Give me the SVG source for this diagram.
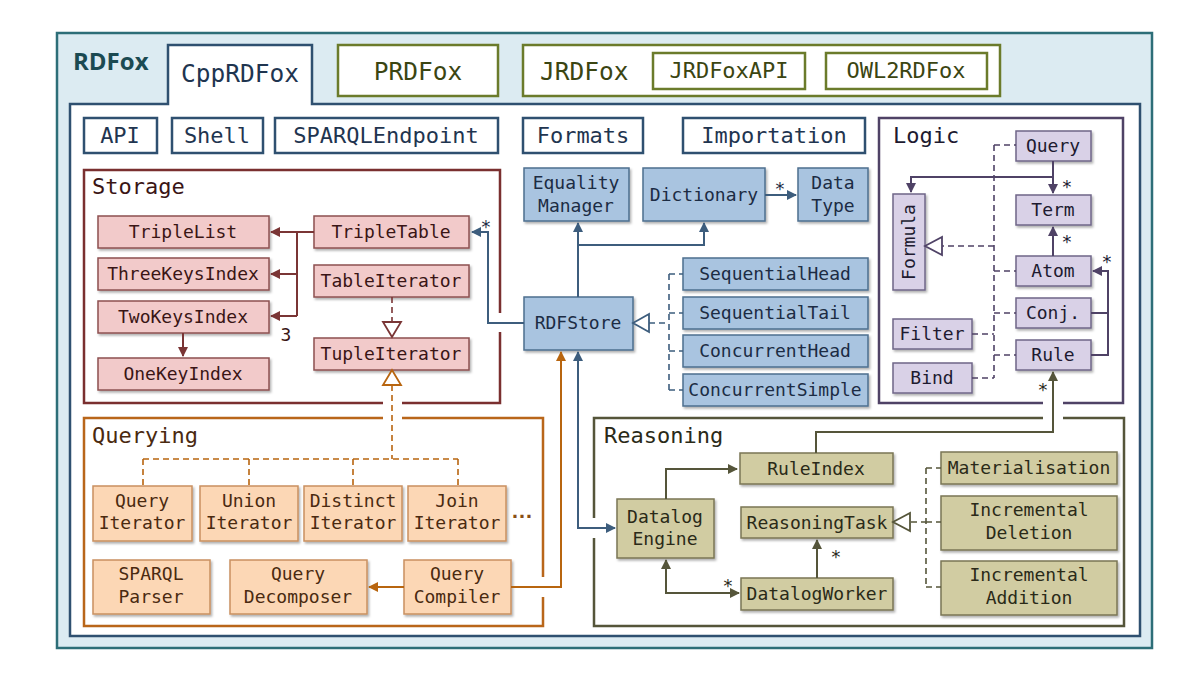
<svg xmlns="http://www.w3.org/2000/svg" width="1200" height="688" viewBox="0 0 1200 688">
<style>
text{font-family:"DejaVu Sans Mono","Liberation Mono",monospace;}
.t18{font-size:18px;text-anchor:middle;}
.t22{font-size:22px;}
.t24{font-size:24.5px;}
.mid{text-anchor:middle;}
.frame{fill:none;stroke-width:2.5;}
.wbox{fill:#fff;stroke-width:2.5;}
.bl{stroke:#2f5070;}
.ol{stroke:#6b7b2b;}
.sn{fill:#f2caca;stroke:#8d5050;stroke-width:1.5;filter:url(#sh);}
.qn{fill:#fcd7b5;stroke:#c99060;stroke-width:1.5;filter:url(#sh);}
.bn{fill:#a9c4e0;stroke:#4e6f8f;stroke-width:1.5;filter:url(#sh);}
.ln{fill:#d9d1e7;stroke:#6f6688;stroke-width:1.5;filter:url(#sh);}
.rn{fill:#d1cca2;stroke:#7a7655;stroke-width:1.5;filter:url(#sh);}
.c{fill:none;stroke-width:2;}
.d{fill:none;stroke-width:1.6;stroke-dasharray:6,4;}
.tri{fill:#fff;stroke-width:1.8;}
</style>
<defs>
<filter id="sh" x="-10%" y="-10%" width="130%" height="140%"><feDropShadow dx="1.5" dy="2" stdDeviation="1" flood-color="#000" flood-opacity="0.3"/></filter>
<marker id="ar" viewBox="0 0 10 10" refX="9" refY="5" markerWidth="5" markerHeight="5" orient="auto-start-reverse"><path d="M0,0 L10,5 L0,10 Z" fill="#7a3535"/></marker>
<marker id="ab" viewBox="0 0 10 10" refX="9" refY="5" markerWidth="5" markerHeight="5" orient="auto-start-reverse"><path d="M0,0 L10,5 L0,10 Z" fill="#3d5d7d"/></marker>
<marker id="ao" viewBox="0 0 10 10" refX="9" refY="5" markerWidth="5" markerHeight="5" orient="auto-start-reverse"><path d="M0,0 L10,5 L0,10 Z" fill="#b8650f"/></marker>
<marker id="ap" viewBox="0 0 10 10" refX="9" refY="5" markerWidth="5" markerHeight="5" orient="auto-start-reverse"><path d="M0,0 L10,5 L0,10 Z" fill="#4f4266"/></marker>
<marker id="ag" viewBox="0 0 10 10" refX="9" refY="5" markerWidth="5" markerHeight="5" orient="auto-start-reverse"><path d="M0,0 L10,5 L0,10 Z" fill="#55553a"/></marker>
</defs>

<g id="rdfox">
<rect x="57" y="33" width="1095" height="615" fill="#dcebf2" stroke="#2d6e78" stroke-width="2.5"/>
<text x="73" y="70" style="font-family:'Open Sans','Liberation Sans',sans-serif;font-weight:bold;font-size:24px" fill="#1b4a52">RDFox</text>
</g>

<g id="cpprdfox">
<path d="M70,636 V104 H168 V45 H312 V104 H1140 V636 Z" class="wbox bl"/>
<text x="240" y="82" class="t24 mid" fill="#1f3550">CppRDFox</text>
</g>

<g id="prdfox">
<rect x="338" y="45" width="160" height="51" class="wbox ol"/>
<text x="418" y="80" class="t24 mid" fill="#3b4512">PRDFox</text>
</g>

<g id="jrdfox">
<rect x="523" y="45" width="477" height="51" class="wbox ol"/>
<text x="540" y="80" class="t24" fill="#3b4512">JRDFox</text>
</g>
<g id="jrdfoxapi">
<rect x="653" y="53" width="152" height="36" class="wbox ol"/>
<text x="729" y="78" class="t22 mid" fill="#3b4512">JRDFoxAPI</text>
</g>
<g id="owl2rdfox">
<rect x="826" y="53" width="161" height="36" class="wbox ol"/>
<text x="906" y="78" class="t22 mid" fill="#3b4512">OWL2RDFox</text>
</g>

<g id="api"><rect x="84" y="118" width="73" height="35" class="wbox bl"/><text x="120" y="143" class="t22 mid" fill="#1f3550">API</text></g>
<g id="shell"><rect x="172" y="118" width="91" height="35" class="wbox bl"/><text x="217" y="143" class="t22 mid" fill="#1f3550">Shell</text></g>
<g id="sparqlendpoint"><rect x="275" y="118" width="223" height="35" class="wbox bl"/><text x="386" y="143" class="t22 mid" fill="#1f3550">SPARQLEndpoint</text></g>
<g id="formats"><rect x="523" y="118" width="120" height="35" class="wbox bl"/><text x="583" y="143" class="t22 mid" fill="#1f3550">Formats</text></g>
<g id="importation"><rect x="683" y="118" width="182" height="35" class="wbox bl"/><text x="774" y="143" class="t22 mid" fill="#1f3550">Importation</text></g>

<!-- package frames -->
<g id="storage">
<path d="M500,313 V170 H84 V403 H383 M402,403 H500 V332" class="frame" stroke="#7a2f2f"/>
<text x="92" y="194" class="t22" fill="#3a1515">Storage</text>
</g>
<g id="querying">
<path d="M383,418 H84 V626 H543 V597 M543,577 V418 H402" class="frame" stroke="#b9661a"/>
<text x="92" y="443" class="t22" fill="#4a2a10">Querying</text>
</g>
<g id="reasoning">
<path d="M594,518 V418 H1043 M1063,418 H1124 V626 H594 V538" class="frame" stroke="#55553a"/>
<text x="604" y="443" class="t22" fill="#2a2a18">Reasoning</text>
</g>
<g id="logic">
<path d="M1043,403 H879 V118 H1123 V403 H1063" class="frame" stroke="#4f4266"/>
<text x="893" y="143" class="t22" fill="#201a30">Logic</text>
</g>

<!-- storage nodes -->
<g id="triplelist"><rect x="98" y="216" width="171" height="32" class="sn"/><text x="183" y="238" class="t18" fill="#3a1515">TripleList</text></g>
<g id="threekeysindex"><rect x="98" y="258" width="171" height="32" class="sn"/><text x="183" y="280" class="t18" fill="#3a1515">ThreeKeysIndex</text></g>
<g id="twokeysindex"><rect x="98" y="301" width="171" height="32" class="sn"/><text x="183" y="323" class="t18" fill="#3a1515">TwoKeysIndex</text></g>
<g id="onekeyindex"><rect x="98" y="358" width="171" height="32" class="sn"/><text x="183" y="380" class="t18" fill="#3a1515">OneKeyIndex</text></g>
<g id="tripletable"><rect x="314" y="216" width="155" height="32" class="sn"/><text x="391" y="238" class="t18" fill="#3a1515">TripleTable</text></g>
<g id="tableiterator"><rect x="314" y="265" width="155" height="32" class="sn"/><text x="391" y="287" class="t18" fill="#3a1515">TableIterator</text></g>
<g id="tupleiterator"><rect x="314" y="338" width="155" height="32" class="sn"/><text x="391" y="360" class="t18" fill="#3a1515">TupleIterator</text></g>

<!-- querying nodes -->
<g id="queryiterator"><rect x="93" y="486" width="99" height="55" class="qn"/><text class="t18" fill="#4a2a10"><tspan x="142" y="507">Query</tspan><tspan x="142" y="529">Iterator</tspan></text></g>
<g id="unioniterator"><rect x="200" y="486" width="98" height="55" class="qn"/><text class="t18" fill="#4a2a10"><tspan x="249" y="507">Union</tspan><tspan x="249" y="529">Iterator</tspan></text></g>
<g id="distinctiterator"><rect x="304" y="486" width="98" height="55" class="qn"/><text class="t18" fill="#4a2a10"><tspan x="353" y="507">Distinct</tspan><tspan x="353" y="529">Iterator</tspan></text></g>
<g id="joiniterator"><rect x="408" y="486" width="98" height="55" class="qn"/><text class="t18" fill="#4a2a10"><tspan x="457" y="507">Join</tspan><tspan x="457" y="529">Iterator</tspan></text></g>
<text x="522" y="518" style="font-family:'Liberation Sans','DejaVu Sans',sans-serif;font-weight:bold;font-size:22px;text-anchor:middle" fill="#8a4f16">…</text>
<g id="sparqlparser"><rect x="93" y="560" width="117" height="54" class="qn"/><text class="t18" fill="#4a2a10"><tspan x="151" y="580">SPARQL</tspan><tspan x="151" y="603">Parser</tspan></text></g>
<g id="querydecomposer"><rect x="230" y="560" width="137" height="54" class="qn"/><text class="t18" fill="#4a2a10"><tspan x="298" y="580">Query</tspan><tspan x="298" y="603">Decomposer</tspan></text></g>
<g id="querycompiler"><rect x="404" y="560" width="107" height="54" class="qn"/><text class="t18" fill="#4a2a10"><tspan x="457" y="580">Query</tspan><tspan x="457" y="603">Compiler</tspan></text></g>

<!-- blue nodes -->
<g id="equalitymanager"><rect x="524" y="168" width="105" height="53" class="bn"/><text class="t18" fill="#1c2c44"><tspan x="576" y="189">Equality</tspan><tspan x="576" y="212">Manager</tspan></text></g>
<g id="dictionary"><rect x="643" y="168" width="122" height="53" class="bn"/><text x="704" y="201" class="t18" fill="#1c2c44">Dictionary</text></g>
<g id="datatype"><rect x="798" y="168" width="70" height="53" class="bn"/><text class="t18" fill="#1c2c44"><tspan x="833" y="189">Data</tspan><tspan x="833" y="212">Type</tspan></text></g>
<g id="rdfstore"><rect x="524" y="297" width="109" height="53" class="bn"/><text x="578" y="329" class="t18" fill="#1c2c44">RDFStore</text></g>
<g id="sequentialhead"><rect x="683" y="258" width="185" height="32" class="bn"/><text x="775" y="280" class="t18" fill="#1c2c44">SequentialHead</text></g>
<g id="sequentialtail"><rect x="683" y="297" width="185" height="32" class="bn"/><text x="775" y="319" class="t18" fill="#1c2c44">SequentialTail</text></g>
<g id="concurrenthead"><rect x="683" y="335" width="185" height="32" class="bn"/><text x="775" y="357" class="t18" fill="#1c2c44">ConcurrentHead</text></g>
<g id="concurrentsimple"><rect x="683" y="374" width="185" height="32" class="bn"/><text x="775" y="396" class="t18" fill="#1c2c44">ConcurrentSimple</text></g>

<!-- logic nodes -->
<g id="query"><rect x="1016" y="131" width="75" height="30" class="ln"/><text x="1053" y="152" class="t18" fill="#201a30">Query</text></g>
<g id="term"><rect x="1016" y="195" width="75" height="30" class="ln"/><text x="1053" y="216" class="t18" fill="#201a30">Term</text></g>
<g id="atom"><rect x="1016" y="256" width="75" height="30" class="ln"/><text x="1053" y="277" class="t18" fill="#201a30">Atom</text></g>
<g id="conj"><rect x="1016" y="298" width="75" height="30" class="ln"/><text x="1053" y="319" class="t18" fill="#201a30">Conj.</text></g>
<g id="rule"><rect x="1016" y="340" width="75" height="30" class="ln"/><text x="1053" y="361" class="t18" fill="#201a30">Rule</text></g>
<g id="formula"><rect x="893" y="194" width="32" height="96" class="ln"/><text x="909" y="248" class="t18" fill="#201a30" transform="rotate(-90 909 242)">Formula</text></g>
<g id="filter"><rect x="893" y="319" width="79" height="30" class="ln"/><text x="932" y="340" class="t18" fill="#201a30">Filter</text></g>
<g id="bind"><rect x="893" y="363" width="79" height="30" class="ln"/><text x="932" y="384" class="t18" fill="#201a30">Bind</text></g>

<!-- reasoning nodes -->
<g id="ruleindex"><rect x="740" y="453" width="153" height="31" class="rn"/><text x="816" y="475" class="t18" fill="#2a2a18">RuleIndex</text></g>
<g id="datalogengine"><rect x="617" y="499" width="97" height="59" class="rn"/><text class="t18" fill="#2a2a18"><tspan x="665" y="523">Datalog</tspan><tspan x="665" y="545">Engine</tspan></text></g>
<g id="reasoningtask"><rect x="741" y="507" width="152" height="31" class="rn"/><text x="817" y="529" class="t18" fill="#2a2a18">ReasoningTask</text></g>
<g id="datalogworker"><rect x="741" y="578" width="152" height="32" class="rn"/><text x="817" y="600" class="t18" fill="#2a2a18">DatalogWorker</text></g>
<g id="materialisation"><rect x="941" y="452" width="176" height="32" class="rn"/><text x="1029" y="474" class="t18" fill="#2a2a18">Materialisation</text></g>
<g id="incrementaldeletion"><rect x="941" y="496" width="176" height="54" class="rn"/><text class="t18" fill="#2a2a18"><tspan x="1029" y="516">Incremental</tspan><tspan x="1029" y="539">Deletion</tspan></text></g>
<g id="incrementaladdition"><rect x="941" y="561" width="176" height="54" class="rn"/><text class="t18" fill="#2a2a18"><tspan x="1029" y="581">Incremental</tspan><tspan x="1029" y="604">Addition</tspan></text></g>

<g id="connectors">
<!-- storage -->
<g stroke="#7a3535">
<path d="M314,232 H271" class="c" marker-end="url(#ar)"/>
<path d="M297,232 V316" class="c"/>
<path d="M297,274 H271" class="c" marker-end="url(#ar)"/>
<path d="M297,316 H271" class="c" marker-end="url(#ar)"/>
<path d="M183,333 V356" class="c" marker-end="url(#ar)"/>
<path d="M392,297 V322" class="d"/>
<polygon points="383,322 401,322 392,337" class="tri"/>
</g>
<text x="286" y="341" class="t18" fill="#3a1515">3</text>
<!-- blue -->
<g stroke="#3d5d7d">
<path d="M524,323 H488 V232 H472" class="c" marker-end="url(#ab)"/>
<path d="M578,297 V223" class="c" marker-end="url(#ab)"/>
<path d="M578,245 H704 V223" class="c" marker-end="url(#ab)"/>
<path d="M765,195 H796" class="c" marker-end="url(#ab)"/>
<path d="M578,352 V528 H615" class="c" marker-start="url(#ab)" marker-end="url(#ab)"/>
<path d="M649,323 H669 M669,274 V390 M669,274 H683 M669,313 H683 M669,351 H683 M669,390 H683" class="d"/>
<polygon points="633,323 649,314 649,332" class="tri"/>
</g>
<text x="486" y="233" class="t18" fill="#1c2c44">*</text>
<text x="780" y="195" class="t18" fill="#1c2c44">*</text>
<!-- orange -->
<g stroke="#b8650f">
<path d="M511,587 H561 V352" class="c" marker-end="url(#ao)"/>
<path d="M404,587 H369" class="c" marker-end="url(#ao)"/>
<path d="M392,385 V459 M143,459 H458 M143,459 V486 M249,459 V486 M353,459 V486 M458,459 V486" class="d"/>
<polygon points="392,370 383,385 401,385" class="tri"/>
</g>
<!-- logic -->
<g stroke="#4f4266">
<path d="M1053,161 V193" class="c" marker-end="url(#ap)"/>
<path d="M1053,177 H911 V192" class="c" marker-end="url(#ap)"/>
<path d="M1053,256 V227" class="c" marker-end="url(#ap)"/>
<path d="M1091,313 H1108 M1091,355 H1108 V271 H1093" class="c" marker-end="url(#ap)"/>
<path d="M994,145 H1016 M994,145 V378 M994,271 H1016 M994,313 H1016 M994,355 H1016 M972,334 H994 M972,378 H994 M994,246 H942" class="d"/>
<polygon points="925,246 942,237 942,255" class="tri"/>
</g>
<text x="1067" y="193" class="t18" fill="#201a30">*</text>
<text x="1067" y="248" class="t18" fill="#201a30">*</text>
<text x="1107" y="268" class="t18" fill="#201a30">*</text>
<!-- reasoning -->
<g stroke="#55553a">
<path d="M666,499 V469 H737" class="c" marker-end="url(#ag)"/>
<path d="M666,560 V593 H739" class="c" marker-start="url(#ag)" marker-end="url(#ag)"/>
<path d="M817,578 V540" class="c" marker-end="url(#ag)"/>
<path d="M816,453 V432 H1053 V372" class="c" marker-end="url(#ag)"/>
<path d="M911,522 H926 M926,468 V587 M926,468 H941 M926,522 H941 M926,587 H941" class="d"/>
<polygon points="893,522 910,513 910,531" class="tri"/>
</g>
<text x="728" y="592" class="t18" fill="#2a2a18">*</text>
<text x="836" y="563" class="t18" fill="#2a2a18">*</text>
<text x="1043" y="396" class="t18" fill="#2a2a18">*</text>
</g>
</svg>
